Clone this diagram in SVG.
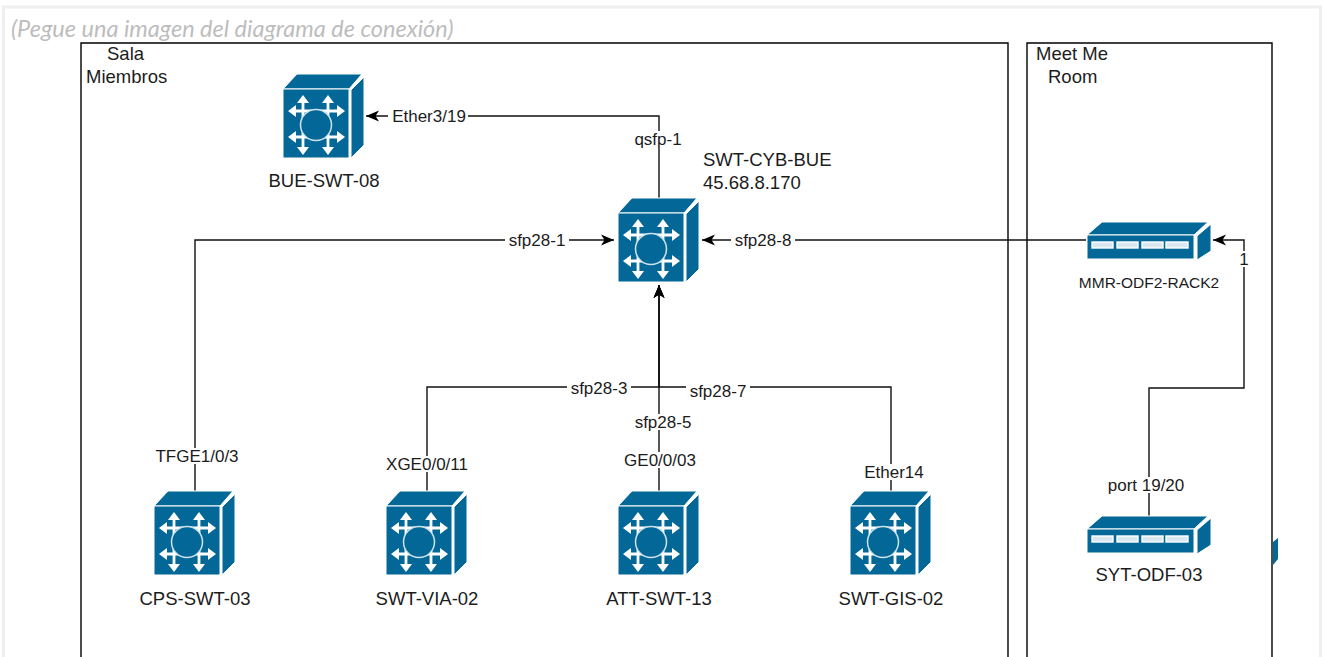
<svg xmlns="http://www.w3.org/2000/svg" width="1322" height="657" viewBox="0 0 1322 657">
<style>
text{font-family:"Liberation Sans",Arial,sans-serif;font-size:17px;fill:#1c1c1c}
.c{text-anchor:middle}
.n{font-size:18.500px}
.room{fill:#fff;stroke:#000;stroke-width:1.400}
.w{fill:none;stroke:#111;stroke-width:1.400}
.lb{fill:#fff;stroke:none}
.hl{fill:none;stroke:#fff;stroke-width:2.800}
.blue{fill:#036897;stroke:#fff;stroke-width:1}
</style>
<defs>
<marker id="ah" markerWidth="14" markerHeight="12" refX="13" refY="6" orient="auto" markerUnits="userSpaceOnUse"><path d="M0 0.500L13 6L0 11.500L3.500 6Z" fill="#000"/></marker>
<path id="arr" d="M0 -9L6 -1H-6Z" fill="#fff"/>
<g id="sw">
<path class="blue" d="M0 0L14 -15H79L66 0Z"/>
<path class="blue" d="M68 1L81 -12V56L68 69Z"/>
<rect class="blue" x="0" y="0" width="66" height="69"/>
<path class="hl" d="M20 13V59M45 13V59M12 22H54M12 48H54"/>
<circle cx="33" cy="36" r="15.500" fill="#036897" stroke="#cfe3ec" stroke-width="1.500"/>
<use href="#arr" transform="translate(20 15)"/><use href="#arr" transform="translate(45 15)"/>
<use href="#arr" transform="translate(20 57) rotate(180)"/><use href="#arr" transform="translate(45 57) rotate(180)"/>
<use href="#arr" transform="translate(14 22) rotate(-90)"/><use href="#arr" transform="translate(14 48) rotate(-90)"/>
<use href="#arr" transform="translate(53 22) rotate(90)"/><use href="#arr" transform="translate(53 48) rotate(90)"/>
</g>
<g id="odf">
<path class="blue" d="M0 0L15 -13H121L107 0Z"/>
<path class="blue" d="M110 1L124 -11V16L110 25Z"/>
<rect class="blue" x="0" y="0" width="107" height="24"/>
<g fill="#d8e8ee" stroke="#fff" stroke-width="1.400"><rect x="5" y="7" width="21" height="6"/><rect x="30" y="7" width="21" height="6"/><rect x="55" y="7" width="21" height="6"/><rect x="79" y="7" width="22" height="6"/></g>
</g>
</defs>
<rect width="1322" height="657" fill="#fff"/>
<path d="M3.500 657V7H1320.500V657" fill="none" stroke="#efefef" stroke-width="3"/>
<text x="11" y="37" style="font-family:Lato,'Open Sans',sans-serif;font-size:23.500px;font-style:italic;fill:#bdbdbd">(Pegue una imagen del diagrama de conexión)</text>
<g id="sala"><path class="room" d="M81 657V43H1008V657"/><text class="n" x="107" y="60">Sala</text><text class="n" x="86" y="83">Miembros</text></g>
<g id="mmr"><path class="room" d="M1027 657V43H1272V657"/><text class="n" x="1036" y="60">Meet Me</text><text class="n" x="1048" y="83">Room</text></g>
<g id="connectors">
<path class="w" marker-end="url(#ah)" d="M659 198V116H366"/>
<path class="w" marker-end="url(#ah)" d="M195 491V240H614"/>
<path class="w" marker-end="url(#ah)" d="M1086 240H702"/>
<path class="w" marker-end="url(#ah)" d="M659 491V285"/>
<path class="w" marker-end="url(#ah)" d="M427 491V387H659V285"/>
<path class="w" marker-end="url(#ah)" d="M891 491V387H659V285"/>
<path class="w" marker-end="url(#ah)" d="M1149 516V388H1244V240H1213"/>
</g>
<g id="labels">
<rect class="lb" x="388" y="108" width="80" height="16"/><text class="c" x="429" y="122">Ether3/19</text>
<rect class="lb" x="634" y="131" width="50" height="17"/><text class="c" x="658" y="145">qsfp-1</text>
<rect class="lb" x="505" y="232" width="64" height="16"/><text class="c" x="537" y="246">sfp28-1</text>
<rect class="lb" x="731" y="232" width="64" height="16"/><text class="c" x="763" y="246">sfp28-8</text>
<rect class="lb" x="567" y="380" width="64" height="16"/><text class="c" x="599" y="394">sfp28-3</text>
<rect class="lb" x="686" y="384" width="64" height="16"/><text class="c" x="718" y="397">sfp28-7</text>
<rect class="lb" x="631" y="414" width="64" height="16"/><text class="c" x="663" y="428">sfp28-5</text>
<rect class="lb" x="153" y="448" width="87" height="16"/><text class="c" x="197" y="462">TFGE1/0/3</text>
<rect class="lb" x="384" y="456" width="86" height="16"/><text class="c" x="427" y="470">XGE0/0/11</text>
<rect class="lb" x="623" y="452" width="73" height="16"/><text class="c" x="660" y="466">GE0/0/03</text>
<rect class="lb" x="862" y="464" width="65" height="16"/><text class="c" x="894" y="478">Ether14</text>
<rect class="lb" x="1107" y="477" width="80" height="16"/><text class="c" x="1146" y="491">port 19/20</text>
<rect class="lb" x="1237" y="251" width="14" height="16"/><text class="c" x="1244" y="265">1</text>
</g>
<g id="bue-swt-08"><use href="#sw" x="283" y="89"/><text class="c n" x="324" y="187">BUE-SWT-08</text></g>
<g id="swt-cyb-bue"><use href="#sw" x="618" y="213"/><text class="n" x="703" y="166">SWT-CYB-BUE</text><text class="n" x="703" y="189">45.68.8.170</text></g>
<g id="cps-swt-03"><use href="#sw" x="154" y="506"/><text class="c n" x="195" y="605">CPS-SWT-03</text></g>
<g id="swt-via-02"><use href="#sw" x="386" y="506"/><text class="c n" x="427" y="605">SWT-VIA-02</text></g>
<g id="att-swt-13"><use href="#sw" x="618" y="506"/><text class="c n" x="659" y="605">ATT-SWT-13</text></g>
<g id="swt-gis-02"><use href="#sw" x="850" y="506"/><text class="c n" x="891" y="605">SWT-GIS-02</text></g>
<g id="mmr-odf2-rack2"><use href="#odf" x="1087" y="235"/><text class="c" x="1149" y="288" style="font-size:15.500px">MMR-ODF2-RACK2</text></g>
<g id="syt-odf-03"><use href="#odf" x="1087" y="529"/><text class="c n" x="1149" y="581">SYT-ODF-03</text></g>
<path d="M1273 542L1278 538V559L1273 565Z" fill="#036897"/>
</svg>
